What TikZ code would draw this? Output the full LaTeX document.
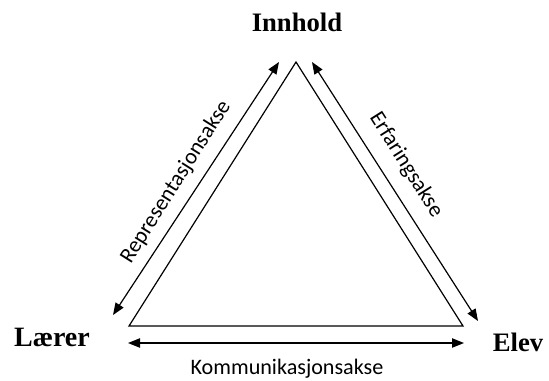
\documentclass[tikz,border=0pt]{standalone}
\usepackage{fontspec}
\setmainfont{Liberation Serif}
\newfontfamily\calib{Carlito}
\usetikzlibrary{arrows.meta}
\tikzset{
  axis/.style={line width=0.9pt, {Triangle[length=9pt,width=7pt]}-{Triangle[length=9pt,width=7pt]}},
  side/.style={line width=0.9pt},
  corner/.style={font=\fontsize{20pt}{22pt}\selectfont\bfseries, inner sep=0pt},
  axlabel/.style={font=\calib\fontsize{16.6pt}{18pt}\selectfont, inner sep=0pt}
}
\begin{document}
\begin{tikzpicture}[x=0.75pt,y=-0.75pt]
\useasboundingbox (0,0) rectangle (549,380);
% triangle corners
\coordinate (A) at (296,62);
\coordinate (L) at (129,326);
\coordinate (E) at (463,326);
\draw[side] (A) -- (L) -- (E) -- cycle;
% axis end points
\coordinate (l1) at (113,315);
\coordinate (l2) at (279,62);
\coordinate (r1) at (312,62);
\coordinate (r2) at (478,321);
\coordinate (b1) at (128,343);
\coordinate (b2) at (464,343);
\draw[axis] (l1) -- (l2);
\draw[axis] (r1) -- (r2);
\draw[axis] (b1) -- (b2);
% labels
\node[corner] (inn) at (297,22) {Innhold};
\node[corner, scale=1.05] (lar) at (52,337) {Lærer};
\node[corner] (elv) at (518,342) {Elev};
\node[axlabel, anchor=base] (kom) at (287,374) {Kommunikasjonsakse};
\node[axlabel, rotate=57.7] (rep) at (176,182) {Representasjonsakse};
\node[axlabel, rotate=-57.7] (erf) at (406,165) {Erfaringsakse};
\end{tikzpicture}
\end{document}
